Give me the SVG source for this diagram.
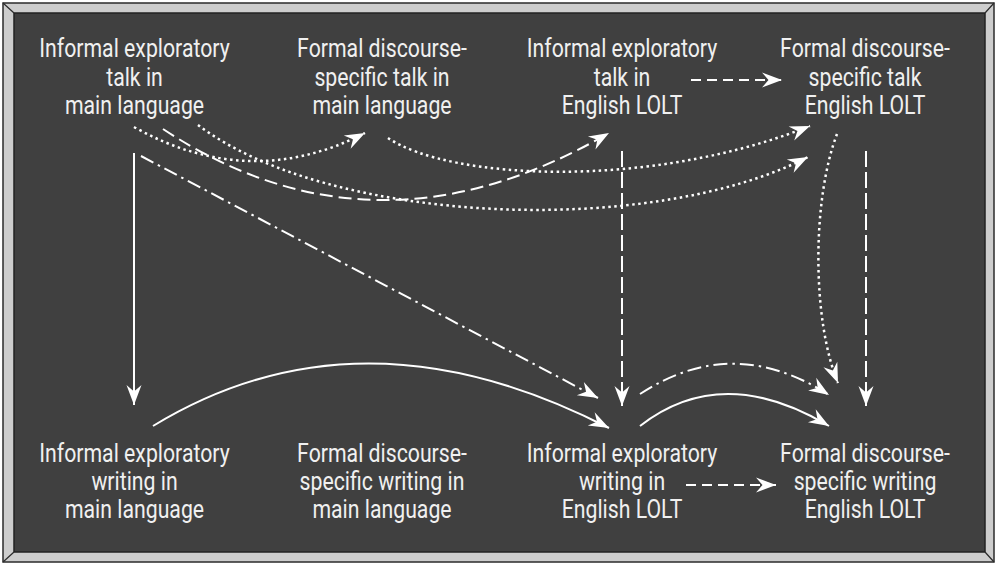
<svg xmlns="http://www.w3.org/2000/svg" width="996" height="564" viewBox="0 0 996 564">
<style>
.lbl{font-family:Roboto,"Liberation Sans",sans-serif;font-size:25px;font-weight:400;fill:#f0f0f0;text-anchor:middle}
.c{fill:none;stroke:#ffffff;stroke-width:2}
.dash{stroke-dasharray:13 6}
.dashv{stroke-dasharray:16 5}
.dashs{stroke-dasharray:10 6}
.dot{stroke-dasharray:2.5 3.5;stroke-width:2.5}
.dd{stroke-dasharray:14 5 2.5 5}
</style>
<defs>
<marker id="ah" markerUnits="userSpaceOnUse" markerWidth="24" markerHeight="20" viewBox="-20 -10 22 20" refX="0" refY="0" orient="auto">
<path d="M0,0 L-20,-7.5 L-13.5,0 L-20,7.5 Z" fill="#ffffff"/>
</marker>
</defs>
<g id="frame">
<rect x="3" y="3" width="991" height="559" fill="#cdcdcd" stroke="#2b2b2b" stroke-width="1.5"/>
<rect x="14" y="13" width="971" height="539" fill="#404040" stroke="#222" stroke-width="1.5"/>
<path d="M3,3 L14,13 M994,3 L985,13 M3,562 L14,552 M994,562 L985,552" stroke="#2b2b2b" stroke-width="1.2" fill="none"/>
</g>
<g id="connectors">
<path class="c" d="M134,153 L134,405" marker-end="url(#ah)"/>
<path class="c" d="M153,426 Q360,300 609,428" marker-end="url(#ah)"/>
<path class="c" d="M640,426 Q722,362 829,426" marker-end="url(#ah)"/>
<path class="c dd" d="M141,156 L598,398" marker-end="url(#ah)"/>
<path class="c dd" d="M640,394 Q733,333 829,395" marker-end="url(#ah)"/>
<path class="c dashv" d="M622,151 L622,406" marker-end="url(#ah)"/>
<path class="c dashv" d="M866,151 L866,406" marker-end="url(#ah)"/>
<path class="c dot" d="M837,134 C812,200 812,320 838,383" marker-end="url(#ah)"/>
<path class="c dashs" d="M691,80 L782,80" marker-end="url(#ah)"/>
<path class="c dashs" d="M686,485 L776,485" marker-end="url(#ah)"/>
<path class="c dot" d="M134,127 Q250,192 365,133" marker-end="url(#ah)"/>
<path class="c dash" d="M163,129 Q375,269 609,133" marker-end="url(#ah)"/>
<path class="c dot" d="M198,125 C330,225 650,238 808,157" marker-end="url(#ah)"/>
<path class="c dot" d="M388,138 C450,180 650,190 810,126" marker-end="url(#ah)"/>
</g>
<g id="n1" transform="translate(134.5,0) scale(0.85,1)"><text class="lbl"><tspan x="0" y="57">Informal exploratory</tspan><tspan x="0" y="86">talk in</tspan><tspan x="0" y="114">main language</tspan></text></g>
<g id="n2" transform="translate(382,0) scale(0.85,1)"><text class="lbl"><tspan x="0" y="57">Formal discourse-</tspan><tspan x="0" y="86">specific talk in</tspan><tspan x="0" y="114">main language</tspan></text></g>
<g id="n3" transform="translate(622,0) scale(0.85,1)"><text class="lbl"><tspan x="0" y="57">Informal exploratory</tspan><tspan x="0" y="86">talk in</tspan><tspan x="0" y="114">English LOLT</tspan></text></g>
<g id="n4" transform="translate(865,0) scale(0.85,1)"><text class="lbl"><tspan x="0" y="57">Formal discourse-</tspan><tspan x="0" y="86">specific talk</tspan><tspan x="0" y="114">English LOLT</tspan></text></g>
<g id="n5" transform="translate(134.5,0) scale(0.85,1)"><text class="lbl"><tspan x="0" y="462">Informal exploratory</tspan><tspan x="0" y="490">writing in</tspan><tspan x="0" y="518">main language</tspan></text></g>
<g id="n6" transform="translate(382,0) scale(0.85,1)"><text class="lbl"><tspan x="0" y="462">Formal discourse-</tspan><tspan x="0" y="490">specific writing in</tspan><tspan x="0" y="518">main language</tspan></text></g>
<g id="n7" transform="translate(622,0) scale(0.85,1)"><text class="lbl"><tspan x="0" y="462">Informal exploratory</tspan><tspan x="0" y="490">writing in</tspan><tspan x="0" y="518">English LOLT</tspan></text></g>
<g id="n8" transform="translate(865,0) scale(0.85,1)"><text class="lbl"><tspan x="0" y="462">Formal discourse-</tspan><tspan x="0" y="490">specific writing</tspan><tspan x="0" y="518">English LOLT</tspan></text></g>
</svg>
